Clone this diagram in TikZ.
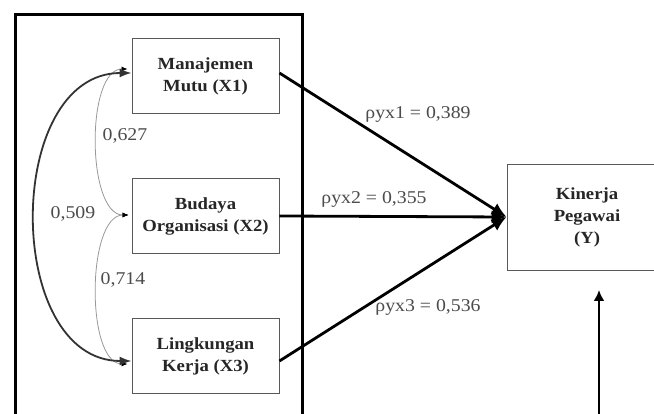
\documentclass[tikz,border=0pt]{standalone}
\usepackage{fontspec}
\setmainfont[FakeStretch=1.1]{Liberation Serif}
\usetikzlibrary{arrows.meta}
\begin{document}
\begin{tikzpicture}[x=1pt,y=-1pt,
  varbox/.style={draw=black!65, line width=0.9pt, minimum width=147pt, minimum height=75pt,
    align=center, inner sep=0pt, text=black!85, font=\fontsize{17}{22}\selectfont\bfseries},
  lbl/.style={text=black!70, inner sep=0pt, font=\fontsize{18}{22}\selectfont},
  patharrow/.style={line width=2.8pt, -{Latex[length=15pt,width=13pt]}},
  bigcorr/.style={draw=black!80, line width=1.8pt, {Latex[length=12pt,width=9pt]}-{Latex[length=12pt,width=9pt]}},
  smallcorr/.style={draw=black!40, line width=0.8pt, {Latex[length=6pt,width=5pt,black]}-{Latex[length=6pt,width=5pt,black]}}
]
\useasboundingbox (0,0) rectangle (654,414);
\clip (0,0) rectangle (654,414);
\fill[white] (0,0) rectangle (654,414);
% outer frame
\draw[line width=3pt] (15,440) -- (15,15) -- (302,15) -- (302,440);
% boxes
\node[varbox] (x1) at (205.5,76) {Manajemen\\Mutu (X1)};
\node[varbox] (x2) at (205.5,216) {Budaya\\Organisasi (X2)};
\node[varbox] (x3) at (205.5,356) {Lingkungan\\Kerja (X3)};
\node[varbox, minimum width=160pt, minimum height=106pt] (y) at (587,217) {Kinerja\\Pegawai\\(Y)};
% path arrows
\draw[patharrow] ([yshift=3pt]x1.east) -- (y.west);
\draw[patharrow] (x2.east) -- (y.west);
\draw[patharrow] ([yshift=-5pt]x3.east) -- (y.west);
% external arrow
\coordinate (ebot) at (599,430);
\coordinate (etop) at (599,290);
\draw[line width=2.5pt, -{Latex[length=11pt,width=11pt]}] (ebot) -- (etop);
% correlations
\coordinate (c1) at ([yshift=3pt]x1.west);
\coordinate (c2) at ([xshift=-3pt,yshift=1pt]x2.west);
\coordinate (c3) at ([yshift=-5pt]x3.west);
\draw[smallcorr] ([xshift=-4pt,yshift=4pt]c1) .. controls +(-42,0) and +(-42,0) .. (c2);
\draw[smallcorr] (c2) .. controls +(-42,0) and +(-42,0) .. ([xshift=-4pt,yshift=-3pt]c3);
\draw[bigcorr] (c1) .. controls +(-128,0) and +(-128,0) .. (c3);
% labels
\node[lbl] (l1) at (418,114) {ρyx1 = 0,389};
\node[lbl] (l2) at (374,199) {ρyx2 = 0,355};
\node[lbl] (l3) at (428,307) {ρyx3 = 0,536};
\node[lbl] (r12) at (125,136) {0,627};
\node[lbl] (r13) at (73,214) {0,509};
\node[lbl] (r23) at (123,280) {0,714};
\end{tikzpicture}
\end{document}
